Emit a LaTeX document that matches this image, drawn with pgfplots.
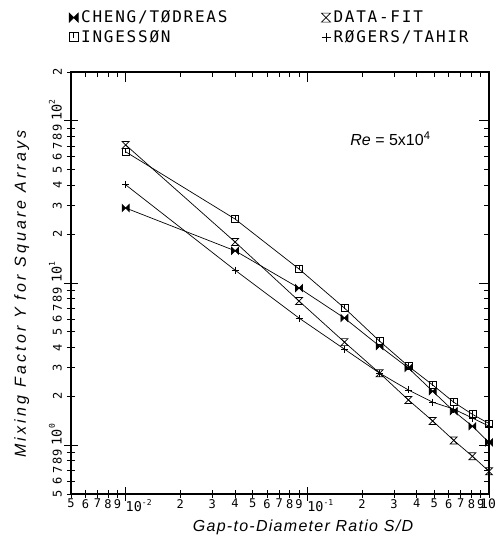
\documentclass[border=0pt]{standalone}
\usepackage{fontspec}
\setmainfont{Liberation Sans}
\newfontfamily\legfont[LetterSpace=11]{DejaVu Sans Mono}
\newfontfamily\tickfont{DejaVu Sans Mono}
\usepackage{pgfplots}
\pgfplotsset{compat=1.18}

% plotter style marks
\pgfdeclareplotmark{hourglass}{%
  \pgfpathmoveto{\pgfqpoint{-\pgfplotmarksize}{\pgfplotmarksize}}%
  \pgfpathlineto{\pgfqpoint{\pgfplotmarksize}{\pgfplotmarksize}}%
  \pgfpathlineto{\pgfqpoint{-\pgfplotmarksize}{-\pgfplotmarksize}}%
  \pgfpathlineto{\pgfqpoint{\pgfplotmarksize}{-\pgfplotmarksize}}%
  \pgfpathclose
  \pgfusepathqstroke}
\pgfdeclareplotmark{bowtie}{%
  \pgfpathmoveto{\pgfqpoint{-\pgfplotmarksize}{\pgfplotmarksize}}%
  \pgfpathlineto{\pgfqpoint{\pgfplotmarksize}{-\pgfplotmarksize}}%
  \pgfpathlineto{\pgfqpoint{\pgfplotmarksize}{\pgfplotmarksize}}%
  \pgfpathlineto{\pgfqpoint{-\pgfplotmarksize}{-\pgfplotmarksize}}%
  \pgfpathclose
  \pgfusepathqfillstroke}
\pgfdeclareplotmark{squaretick}{%
  \pgfpathrectangle{\pgfqpoint{-\pgfplotmarksize}{-\pgfplotmarksize}}%
    {\pgfqpoint{2\pgfplotmarksize}{2\pgfplotmarksize}}%
  \pgfpathmoveto{\pgfqpoint{0pt}{\pgfplotmarksize}}%
  \pgfpathlineto{\pgfqpoint{0pt}{-0.2\pgfplotmarksize}}%
  \pgfusepathqstroke}

\newcommand\dec[1]{\makebox[0pt][l]{\fontsize{13.5}{13.5}\selectfont 10\raisebox{0.9ex}{\fontsize{8}{8}\selectfont #1}}}

\begin{document}
\begin{tikzpicture}
\useasboundingbox (0,0) rectangle (502pt,543pt);
\begin{axis}[
  at={(71pt,49pt)}, anchor=south west,
  scale only axis, width=418pt, height=422pt,
  xmode=log, ymode=log,
  xmin=0.005, xmax=1, ymin=0.5, ymax=200,
  xminorticks=false, yminorticks=false,
  axis line style={line width=1.1pt},
  tick style={black, line width=0.8pt},
  tick align=center, major tick length=8pt,
  xtick pos=left, ytick pos=left,
  xtick={0.005,0.006,0.007,0.008,0.009,0.01,0.02,0.03,0.04,0.05,0.06,0.07,0.08,0.09,0.1,0.2,0.3,0.4,0.5,0.6,0.7,0.8,0.9,1},
  xticklabels={5,6,7,8,9,\dec{-2},2,3,4,5,6,7,8,9,\dec{-1},2,3,4,5,6,7,8,9,\makebox[0pt][c]{\hspace{-2pt}\fontsize{13}{13}\selectfont 10}},
  ytick={0.5,0.6,0.7,0.8,0.9,1,2,3,4,5,6,7,8,9,10,20,30,40,50,60,70,80,90,100,200},
  yticklabels={5,6,7,8,9,\dec{0},2,3,4,5,6,7,8,9,\dec{1},2,3,4,5,6,7,8,9,\dec{2},2},
  extra x ticks={0.01,0.1}, extra x tick labels={,},
  extra y ticks={1,10,100}, extra y tick labels={,,},
  extra tick style={major tick length=14pt},
  xticklabel style={font=\tickfont\fontsize{12}{12}\selectfont, inner sep=1pt},
  yticklabel style={font=\tickfont\fontsize{12}{12}\selectfont, rotate=90, anchor=south, inner sep=5pt},
  xlabel={\itshape\addfontfeature{LetterSpace=8}Gap-to-Diameter Ratio S/D},
  ylabel={\itshape\addfontfeature{LetterSpace=20}Mixing Factor Y for Square Arrays},
  xlabel style={font=\fontsize{16}{16}\selectfont, at={(axis description cs:0.555,-0.08)}, anchor=center},
  ylabel style={font=\fontsize{16}{16}\selectfont, at={(axis description cs:-0.118,0.474)}, anchor=center, rotate=0},
  every axis plot/.append style={black, line width=0.7pt, mark size=3.5pt, mark options={solid, line width=0.7pt}},
  legend columns=2,
  legend cell align=left,
  legend image code/.code={\draw[#1, mark size=4.5pt] plot[only marks] coordinates {(0pt,0pt)};},
  legend style={draw=none, fill=none, at={(axis description cs:-0.012,1.155)}, anchor=north west,
    font=\legfont\fontsize{16}{16}\selectfont, row sep=2pt,
    /tikz/every odd column/.append style={column sep=1pt},
    /tikz/every even column/.append style={column sep=92pt}},
]
\addplot[mark=bowtie] coordinates {
  (0.01,29.0)(0.04,15.8)(0.09,9.31)(0.16,6.08)(0.25,4.08)
  (0.36,2.99)(0.49,2.15)(0.64,1.62)(0.81,1.31)(1.0,1.04)};
\addlegendentry{CHENG/TØDREAS}
\addplot[mark=hourglass] coordinates {
  (0.01,71)(0.04,17.9)(0.09,7.74)(0.16,4.32)(0.25,2.78)
  (0.36,1.90)(0.49,1.41)(0.64,1.07)(0.81,0.855)(1.0,0.69)};
\addlegendentry{DATA-FIT}
\addplot[mark=squaretick] coordinates {
  (0.01,64.4)(0.04,24.8)(0.09,12.2)(0.16,7.01)(0.25,4.38)
  (0.36,3.07)(0.49,2.35)(0.64,1.84)(0.81,1.55)(1.0,1.36)};
\addlegendentry{INGESSØN}
\addplot[mark=+] coordinates {
  (0.01,40.3)(0.04,12.0)(0.09,6.08)(0.16,3.91)(0.25,2.78)
  (0.36,2.19)(0.49,1.84)(0.64,1.67)(0.81,1.47)(1.0,1.31)};
\addlegendentry{RØGERS/TAHIR}
\node[anchor=base west, font=\fontsize{16}{16}\selectfont] at (axis cs:0.165,70) {\textit{Re} = 5x10\textsuperscript{4}};
\end{axis}
\begin{axis}[
  at={(71pt,49pt)}, anchor=south west,
  scale only axis, width=418pt, height=422pt,
  xmode=log, ymode=log,
  xmin=0.005, xmax=1, ymin=0.5, ymax=200,
  xminorticks=false, yminorticks=false,
  axis line style={line width=1.1pt},
  tick style={black, line width=0.8pt},
  tick align=inside, major tick length=5pt,
  xtick pos=right, ytick pos=right,
  xtick={0.005,0.006,0.007,0.008,0.009,0.01,0.02,0.03,0.04,0.05,0.06,0.07,0.08,0.09,0.1,0.2,0.3,0.4,0.5,0.6,0.7,0.8,0.9,1},
  ytick={0.5,0.6,0.7,0.8,0.9,1,2,3,4,5,6,7,8,9,10,20,30,40,50,60,70,80,90,100,200},
  xticklabels={}, yticklabels={},
  extra x ticks={0.01,0.1}, extra x tick labels={,},
  extra y ticks={1,10,100}, extra y tick labels={,,},
  extra tick style={major tick length=10pt},
]
\end{axis}
\end{tikzpicture}
\end{document}
